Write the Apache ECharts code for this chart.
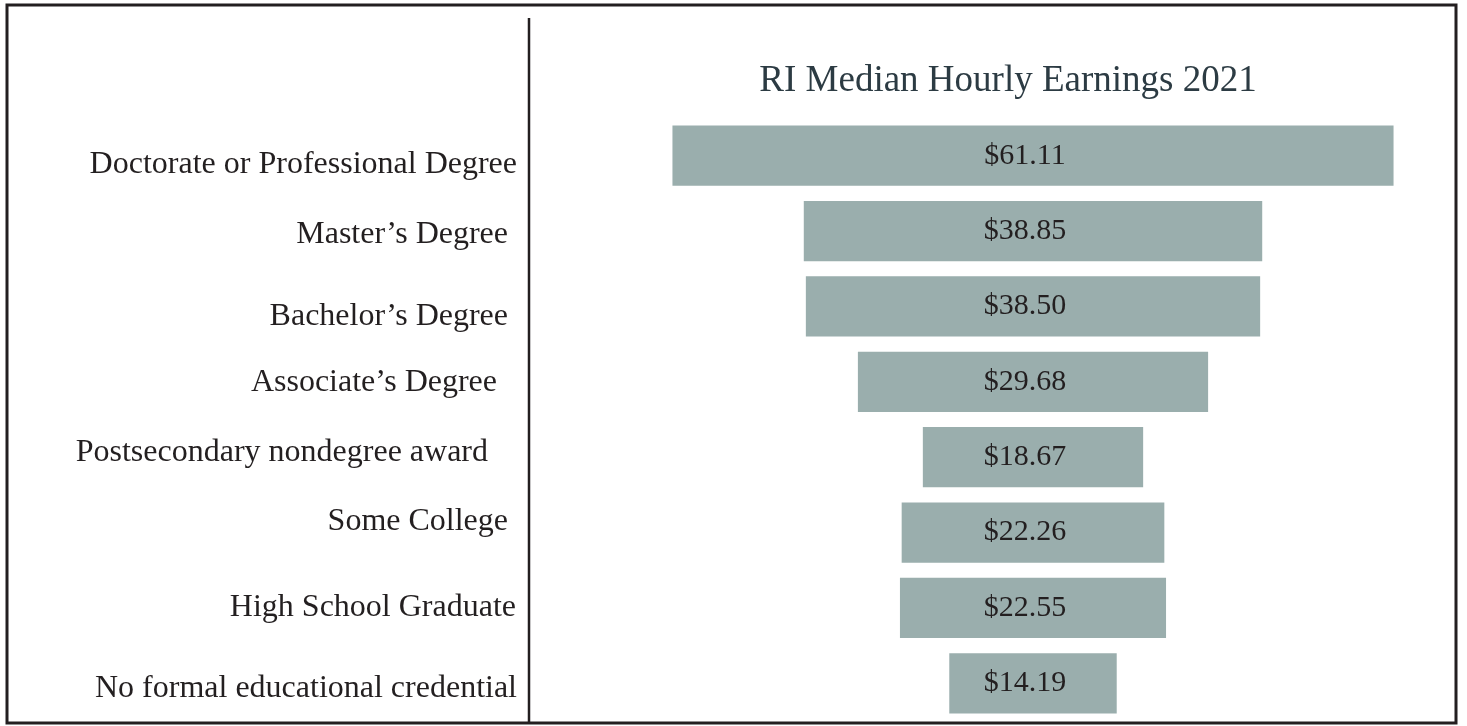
<!DOCTYPE html>
<html>
<head>
<meta charset="utf-8">
<title>RI Median Hourly Earnings 2021</title>
<script src="https://cdn.jsdelivr.net/npm/echarts@6/dist/echarts.min.js"></script>
<style>
  html, body { margin: 0; padding: 0; background: #ffffff; }
  #chart { width: 1467px; height: 726px; }
</style>
</head>
<body>
<div id="chart"></div>
<script>
// Education levels, top to bottom
const categories = [
  'Doctorate or Professional Degree',
  'Master\u2019s Degree',
  'Bachelor\u2019s Degree',
  'Associate\u2019s Degree',
  'Postsecondary nondegree award',
  'Some College',
  'High School Graduate',
  'No formal educational credential'
];

// Median hourly earnings in dollars
const earnings = [61.11, 38.85, 38.50, 29.68, 18.67, 22.26, 22.55, 14.19];

const titleText = 'RI Median Hourly Earnings 2021';

const SERIF = '"Liberation Serif", "DejaVu Serif", serif';
const INK = '#231f20';
const BAR = '#9aaead';

// per-row nudges for the row labels: room on the right, and vertical shift
const labelPadRight = [0, 9, 9, 20, 29, 9, 1, 0];
const labelShiftY = [9, 4, 10, 1, -5, -11, 0, 5];

const chart = echarts.init(document.getElementById('chart'), null, { renderer: 'canvas' });

const rich = {};
labelPadRight.forEach(function (p, i) {
  const dy = labelShiftY[i];
  rich['r' + i] = {
    fontFamily: SERIF, fontSize: 32, color: INK,
    padding: [Math.max(0, 2 * dy), p, Math.max(0, -2 * dy), 0]
  };
});

chart.setOption({
  animation: false,
  backgroundColor: '#ffffff',
  title: {
    text: titleText,
    left: 1003,
    textAlign: 'center',
    top: 58,
    textStyle: { fontFamily: SERIF, fontSize: 37, fontWeight: 'normal', color: '#2c3b43' }
  },
  grid: { left: 620, width: 826, top: 118, height: 603 },
  xAxis: {
    type: 'value',
    min: -35,
    max: 35,
    show: false
  },
  yAxis: {
    type: 'category',
    data: categories,
    inverse: true,
    axisLine: { show: false },
    axisTick: { show: false },
    splitLine: { show: false },
    axisLabel: {
      margin: 103,
      align: 'right',
      formatter: function (value, index) {
        return '{r' + index + '|' + value + '}';
      },
      rich: rich
    }
  },
  series: [{
    type: 'custom',
    data: earnings.map(function (v, i) { return [v, i]; }),
    encode: { x: 0, y: 1 },
    renderItem: function (params, api) {
      const v = api.value(0);
      const idx = api.value(1);
      const left = api.coord([-v / 2, idx]);
      const right = api.coord([v / 2, idx]);
      const h = api.size([0, 1])[1] * 0.8;
      return {
        type: 'rect',
        shape: { x: left[0], y: left[1] - h / 2, width: right[0] - left[0], height: h },
        style: { fill: BAR },
        textContent: {
          style: {
            text: '$' + v.toFixed(2),
            fontFamily: SERIF,
            fontSize: 30,
            fill: INK
          }
        },
        textConfig: { position: 'inside', offset: [-8, 0] }
      };
    }
  }],
  graphic: [
    {
      type: 'rect',
      shape: { x: 7, y: 5, width: 1449, height: 718 },
      style: { fill: 'none', stroke: INK, lineWidth: 3 },
      silent: true
    },
    {
      type: 'line',
      shape: { x1: 529, y1: 18, x2: 529, y2: 723 },
      style: { stroke: INK, lineWidth: 2.5 },
      silent: true
    }
  ]
});
</script>
</body>
</html>
